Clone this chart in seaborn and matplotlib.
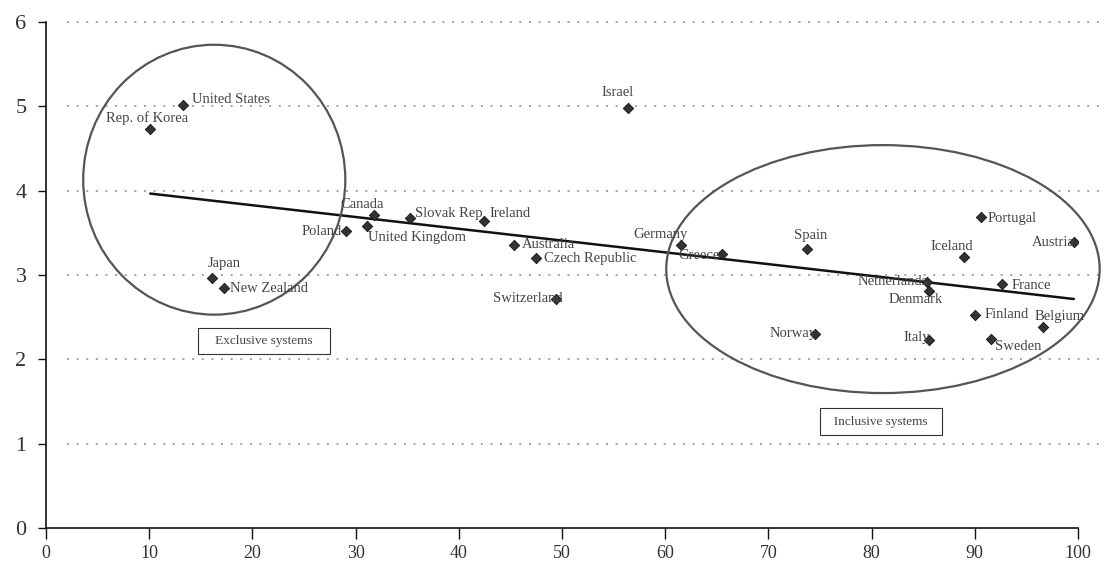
import numpy as np
import pandas as pd
import matplotlib
matplotlib.use("Agg")
import matplotlib.pyplot as plt
import seaborn as sns
from matplotlib.patches import Ellipse

countries = ["Rep. of Korea", "United States", "Israel", "Canada", "Poland",
             "United Kingdom", "Slovak Rep", "Ireland", "Australia", "Czech Republic",
             "Germany", "Greece", "Switzerland", "Japan", "New Zealand", "Spain",
             "Portugal", "Iceland", "Austria", "Netherlands", "Denmark", "France",
             "Finland", "Belgium", "Norway", "Italy", "Sweden"]
x_vals = [10.1, 13.3, 56.4, 31.8, 29.1, 31.1, 35.3, 42.4, 45.3, 47.5,
          61.5, 65.5, 49.4, 16.1, 17.2, 73.7, 90.6, 89.0, 99.6, 85.4,
          85.6, 92.6, 90.0, 96.6, 74.5, 85.6, 91.6]
y_vals = [4.73, 5.02, 4.98, 3.71, 3.52, 3.58, 3.67, 3.64, 3.35, 3.20,
          3.35, 3.25, 2.72, 2.97, 2.84, 3.31, 3.69, 3.21, 3.39, 2.92,
          2.81, 2.89, 2.53, 2.38, 2.30, 2.23, 2.24]
# label offsets in pixels (dx, dy, ha)
label_pos = {
    "Rep. of Korea": (-3, 11, "center"), "United States": (9, 5, "left"),
    "Israel": (-10, 16, "center"), "Canada": (-12, 11, "center"),
    "Poland": (-4, 0, "right"), "United Kingdom": (1, -11, "left"),
    "Slovak Rep": (5, 5, "left"), "Ireland": (6, 8, "left"),
    "Australia": (8, 1, "left"), "Czech Republic": (8, 0, "left"),
    "Germany": (-20, 11, "center"), "Greece": (-2, -2, "right"),
    "Switzerland": (7, 0, "right"), "Japan": (12, 14, "center"),
    "New Zealand": (6, 0, "left"), "Spain": (4, 13, "center"),
    "Portugal": (7, -2, "left"), "Iceland": (-13, 11, "center"),
    "Austria": (1, 0, "right"), "Netherlands": (1, 0, "right"),
    "Denmark": (-14, -8, "center"), "France": (10, -1, "left"),
    "Finland": (10, 0, "left"), "Belgium": (-8, 11, "left"),
    "Norway": (2, 1, "right"), "Italy": (1, 2, "right"),
    "Sweden": (4, -7, "left"),
}
x_ticks = [0, 10, 20, 30, 40, 50, 60, 70, 80, 90, 100]
y_ticks = [0, 1, 2, 3, 4, 5, 6]

df = pd.DataFrame({"country": countries, "x": x_vals, "y": y_vals})

sns.set_style("white")
plt.rcParams["font.family"] = ["Liberation Serif", "DejaVu Serif"]

fig = plt.figure(figsize=(11.07, 5.71), dpi=100)
ax = fig.add_axes([0.0416, 0.0753, 0.9322, 0.8862])

ax.hlines(y_ticks[1:], 2, 102, colors="#8a8a8a", linestyles=(0, (1.3, 5)),
          linewidth=1.1, clip_on=False, zorder=0)

sns.regplot(data=df, x="x", y="y", scatter=False, ci=None, ax=ax,
            line_kws={"color": "#111111", "linewidth": 1.8})
sns.scatterplot(data=df, x="x", y="y", marker="D", s=28, color="#333333",
                edgecolor="#111111", linewidth=0.6, ax=ax, zorder=4)

for c, xv, yv in zip(countries, x_vals, y_vals):
    dx, dy, ha = label_pos[c]
    ax.annotate(c, (xv, yv), xytext=(dx, dy), textcoords="offset pixels",
                ha=ha, va="center", fontsize=10.5, color="#444444", zorder=5,
                annotation_clip=False)

ax.add_patch(Ellipse((16.3, 4.13), 25.4, 3.20, fill=False, edgecolor="#555555",
                     linewidth=1.6, zorder=3, clip_on=False))
ax.add_patch(Ellipse((81.1, 3.07), 42.0, 2.94, fill=False, edgecolor="#555555",
                     linewidth=1.6, zorder=3, clip_on=False))

box = dict(boxstyle="square,pad=0.55", facecolor="white", edgecolor="#333333", linewidth=0.8)
ax.text(21.1, 2.22, "   Exclusive systems   ", ha="center", va="center", fontsize=9.5,
        color="#444444", bbox=box)
ax.text(80.9, 1.26, "  Inclusive systems  ", ha="center", va="center", fontsize=9.5,
        color="#444444", bbox=box)

ax.set_xlim(0, 100)
ax.set_ylim(0, 6)
ax.set_xticks(x_ticks)
ax.set_yticks(y_ticks)
ax.set_xlabel("")
ax.set_ylabel("")
for s in ["top", "right"]:
    ax.spines[s].set_visible(False)
for s in ["left", "bottom"]:
    ax.spines[s].set_color("#111111")
    ax.spines[s].set_linewidth(1.2)
ax.tick_params(axis="x", bottom=True, direction="out", length=8, width=1, color="#111111",
               labelsize=13, pad=4, labelcolor="#333333")
ax.tick_params(axis="y", left=True, direction="out", length=6, width=1, color="#111111",
               labelsize=16, pad=8, labelcolor="#333333")

fig.savefig("out.png", dpi=100)
